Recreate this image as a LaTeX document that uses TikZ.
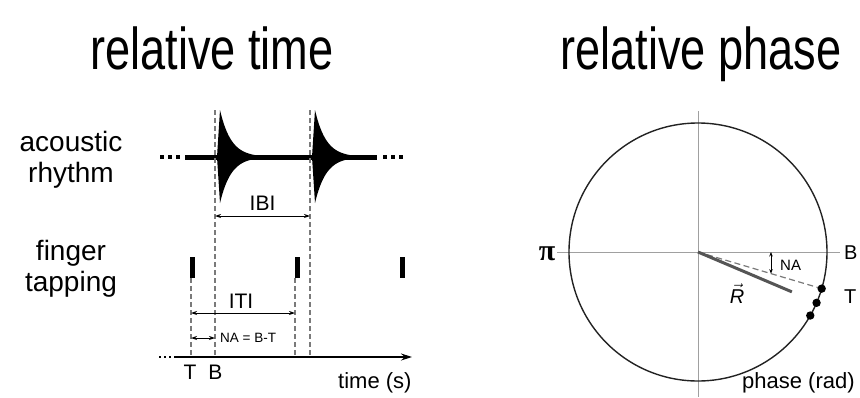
\documentclass[tikz,border=0pt]{standalone}
\usepackage{fontspec}
\setmainfont{Liberation Sans}
\newfontfamily\grfont{Liberation Serif}
\usetikzlibrary{arrows.meta}
\definecolor{dgray}{HTML}{555555}
\definecolor{mgray}{HTML}{7A7A7A}
\definecolor{lgray}{HTML}{A0A0A0}
\definecolor{cline}{HTML}{222222}
\begin{document}
\begin{tikzpicture}[x=1pt,y=-1pt,
  title/.style={inner sep=0pt, anchor=base, font=\fontsize{59}{60}\selectfont},
  side/.style={inner sep=0pt, anchor=base, font=\fontsize{28}{30}\selectfont},
  lab/.style={inner sep=0pt, anchor=base, font=\fontsize{21}{24}\selectfont},
  small/.style={inner sep=0pt, anchor=base, font=\fontsize{13.5}{15}\selectfont},
  tapmark/.style={rectangle, fill=black, draw=none, inner sep=0pt, minimum width=5pt, minimum height=21pt},
  guide/.style={draw=mgray, line width=1.3pt, dash pattern=on 5pt off 3pt},
  dim/.style={line width=0.9pt, arrows={Stealth[length=6pt,width=4pt]-Stealth[length=6pt,width=4pt]}},
  cross/.style={draw=lgray, line width=1pt}]
\useasboundingbox (0,0) rectangle (860,397);

% titles
\node[title] (t_time) at (212,69) {\scalebox{0.765}[1]{relative time}};
\node[title] (t_phase) at (701,69) {\scalebox{0.765}[1]{relative phase}};

% side labels
\node[side] (l1) at (71,151) {acoustic};
\node[side] (l2) at (71,182) {rhythm};
\node[side] (l3) at (71,260) {finger};
\node[side] (l4) at (71,291) {tapping};

% acoustic rhythm waveform
\draw[line width=5pt] (185,157) -- (377,157);
\foreach \xx in {162,170,178,385,393,401}
  \fill (\xx-2.3,154.6) rectangle (\xx+2.3,159.4);
\foreach \o in {0,95}
  \fill (217+\o,157) -- plot[domain=220:272,samples=60] ({\x+\o},{157-47*exp(-(\x-220)/11)})
        -- plot[domain=272:220,samples=60] ({\x+\o},{157+46*exp(-(\x-220)/11)}) -- cycle;

% tap marks
\node[tapmark] (tap1) at (192,267.5) {};
\node[tapmark] (tap2) at (297,267.5) {};
\node[tapmark] (tap3) at (402.5,267.5) {};

% guide coordinates
\coordinate (b1top) at (215,110);
\coordinate (b2top) at (310,110);
\coordinate (b1bot) at (215,357);
\coordinate (b2bot) at (310,357);
\coordinate (t1bot) at (191,357);
\coordinate (t2bot) at (295,357);

\draw[guide] (b1top) -- (b1bot);
\draw[guide] (b2top) -- (b2bot);
\draw[guide] (tap1.south) ++(-1,0) -- (t1bot);
\draw[guide] (tap2.south) ++(-2,0) -- (t2bot);

% time axis
\coordinate (ax0) at (174,357);
\coordinate (ax1) at (412,357);
\coordinate (axd) at (159,357);
\draw[line width=1.2pt, dash pattern=on 2pt off 3pt] (axd) -- (ax0);
\draw[line width=1.2pt, -{Stealth[length=11pt,width=7pt]}] (ax0) -- (ax1);

% dimension arrows
\coordinate (ibi1) at (215,216);
\coordinate (ibi2) at (310,216);
\draw[dim] (ibi1) -- (ibi2);
\node[lab] (ibilab) at (262.5,210) {IBI};

\coordinate (iti1) at (191,313);
\coordinate (iti2) at (295,313);
\draw[dim] (iti1) -- (iti2);
\node[lab] (itilab) at (241,308) {ITI};

\coordinate (na1) at (191,338);
\coordinate (na2) at (215,338);
\draw[dim] (na1) -- (na2);
\node[small, anchor=base west] (nalab) at (220,342) {NA = B-T};

\node[lab] (tlab) at (190,379) {T};
\node[lab] (blab) at (215.5,379) {B};
\node[lab, anchor=base west, font=\fontsize{22}{24}\selectfont] (timelab) at (338,388) {time (s)};

% ---------- relative phase ----------
\coordinate (c) at (698,252);
\coordinate (hl) at (557,252);
\coordinate (hr) at (840,252);
\coordinate (vt) at (698,111);
\coordinate (vb) at (698,397);
\draw[cross] (hl) -- (hr);
\draw[cross] (vt) -- (vb);
\draw[cline, line width=1.4pt] (c) circle[radius=129pt];

\path (c) ++(16.5:129) coordinate (p1);
\path (c) ++(23.2:129) coordinate (p2);
\path (c) ++(29.5:129) coordinate (p3);
\path (c) ++(23:102) coordinate (rtip);

\draw[mgray, line width=1.2pt, dash pattern=on 6pt off 3.5pt] (c) -- (p1);
\draw[dgray, line width=3pt] (c) -- (rtip);
\foreach \p in {p1,p2,p3} \fill (\p) circle[radius=4.2pt];

\path (c) -- (p1) coordinate[pos=0.59] (nab);
\draw[line width=0.9pt, arrows={Stealth[length=4.5pt,width=3.5pt]-Stealth[length=4.5pt,width=3.5pt]}] (nab |- c) -- (nab);
\node[small, anchor=base west, font=\fontsize{15}{16}\selectfont] (na_r) at (780,270) {NA};

\node[inner sep=0pt, anchor=base, font=\fontsize{20}{22}\selectfont] (rlab) at (737,303) {$\vec{\mbox{\itshape R}}$};
\node[inner sep=0pt, anchor=base, font=\grfont\bfseries\fontsize{30}{30}\selectfont] (pilab) at (547,260) {π};
\node[lab, anchor=base west, font=\fontsize{20}{22}\selectfont] (b_r) at (844,259) {B};
\node[lab, anchor=base west, font=\fontsize{20}{22}\selectfont] (t_r) at (844,303) {T};
\node[lab, anchor=base west, font=\fontsize{22}{24}\selectfont] (phlab) at (742,388) {phase (rad)};
\end{tikzpicture}
\end{document}
